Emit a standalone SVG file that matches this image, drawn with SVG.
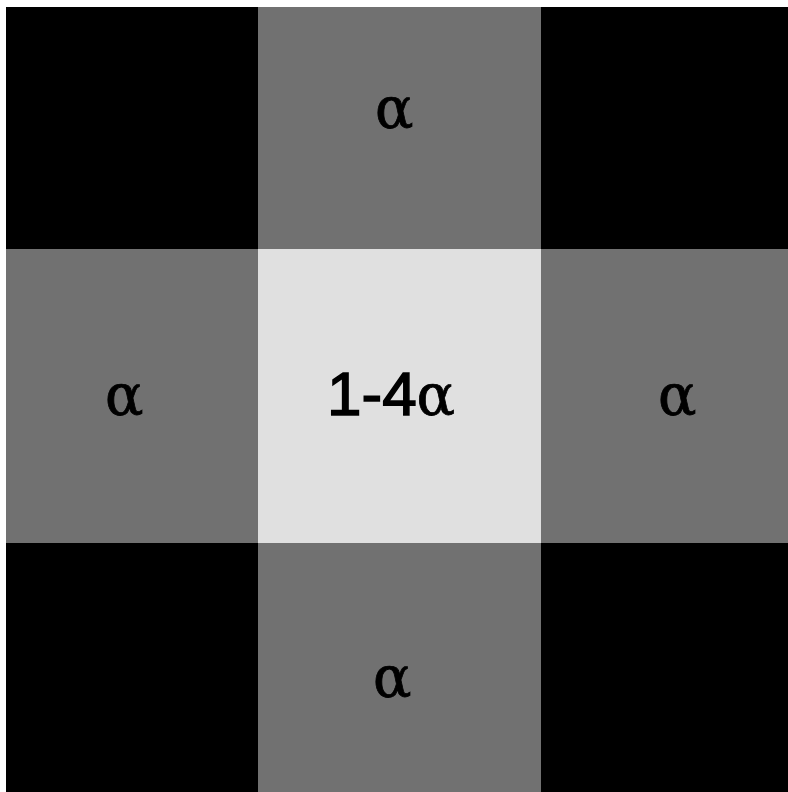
<svg xmlns="http://www.w3.org/2000/svg" width="788" height="792" viewBox="0 0 788 792">
<style>
.blk{fill:#000}
.gry{fill:#717171}
.lit{fill:#e0e0e0}
.a{font-family:"DejaVu Serif","Liberation Serif",serif;font-size:57px;fill:#000;stroke:#000;stroke-width:0.8}
.n{font-family:"Liberation Sans",Arial,sans-serif;font-size:62px;fill:#000;stroke:#000;stroke-width:1.5}
</style>
<rect x="0" y="0" width="788" height="792" fill="#fff"/>
<g id="c00"><rect class="blk" x="6" y="7" width="252" height="242"/></g>
<g id="c01"><rect class="gry" x="258" y="7" width="283" height="242"/><text class="a" x="375" y="128">α</text></g>
<g id="c02"><rect class="blk" x="541" y="7" width="247" height="242"/></g>
<g id="c10"><rect class="gry" x="6" y="249" width="252" height="294"/><text class="a" x="105" y="415">α</text></g>
<g id="c11"><rect class="lit" x="258" y="249" width="283" height="294"/><text x="327" y="415"><tspan class="n">1-4</tspan><tspan class="a">α</tspan></text></g>
<g id="c12"><rect class="gry" x="541" y="249" width="247" height="294"/><text class="a" x="658" y="415">α</text></g>
<g id="c20"><rect class="blk" x="6" y="543" width="252" height="249"/></g>
<g id="c21"><rect class="gry" x="258" y="543" width="283" height="249"/><text class="a" x="373" y="697">α</text></g>
<g id="c22"><rect class="blk" x="541" y="543" width="247" height="249"/></g>
<g id="connectors"></g>
</svg>
